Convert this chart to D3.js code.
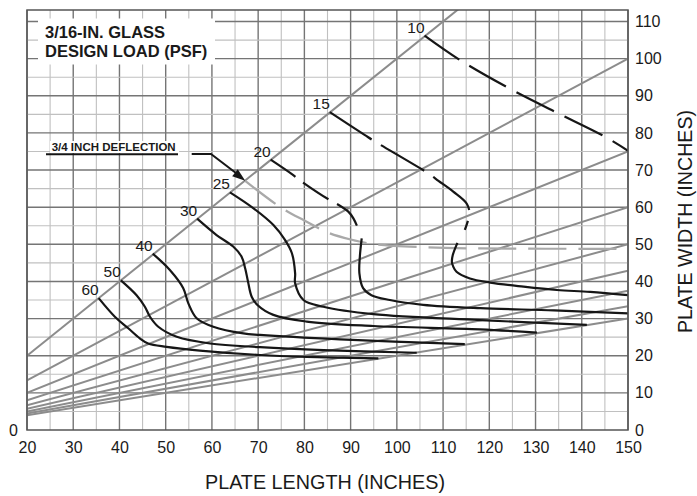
<!DOCTYPE html>
<html><head><meta charset="utf-8">
<script src="https://cdn.jsdelivr.net/npm/d3@7"></script>
<style>html,body{margin:0;padding:0;background:#fff;} svg{display:block;font-family:"Liberation Sans",Arial,Helvetica,sans-serif;}</style>
</head><body><svg id="c" width="697" height="496"></svg>
<script>
// ---------- data ----------
const xTickValues = [20,30,40,50,60,70,80,90,100,110,120,130,140,150];
const yTickValues = [0,10,20,30,40,50,60,70,80,90,100,110];
const aspectRatios = [1,1.5,2,2.5,3,3.5,4,4.5,5];   // plate length / plate width

const load10Dashed = [[106,106.2],[113.8,99.5],[124.3,92.0],[134.7,85.4],[145.0,79.0],[150,75.2]];
const load15Dashed = [[85.5,85.6],[93.1,79.4],[95.1,77.8],[106.8,69.1],[109.0,67.1],[112.2,64.2],[115.1,61.0],[115.7,58.3],[114.7,53.9]];
const load15Solid  = [[113.1,50.4],[112.1,47.1],[111.9,45.3],[112.2,44.0],[112.9,42.6],[115.8,40.8],[120.2,39.7],[127.4,38.6],[134.6,37.7],[141.8,37.2],[150,36.3]];
const load20Dashed = [[72.7,72.8],[77.3,68.9],[79.4,66.9],[85.5,61.9],[86.6,61.2],[89.5,58.8],[90.6,57.0],[91.7,54.0]];
const load20Solid  = [[92.4,51.6],[92.0,46.7],[91.9,42.2],[92.7,38.2],[94.5,36.3],[98.5,35.0],[105.7,33.7],[118,32.8],[134,32.2],[150,31.4]];
const load25Solid  = [[63.9,64.0],[69.0,59.7],[73.3,55.2],[75.8,51.2],[77.3,47.6],[78.0,42.2],[78.0,39.5],[79.8,35.0],[84.1,33.2],[94.9,31.2],[118,29.6],[141.1,28.3]];
const load30Solid  = [[56.8,56.9],[61.0,52.5],[64.6,49.4],[66.4,46.7],[67.2,43.5],[67.8,40.0],[68.6,35.9],[69.9,33.6],[73.3,31.0],[80.5,29.2],[94.9,28.0],[118,27.1],[130.3,26.2]];
const load40Solid  = [[47.2,47.5],[50.9,43.1],[53.8,38.2],[54.9,34.1],[56.7,30.1],[60.3,27.8],[66.8,26.0],[70.4,25.6],[87.7,24.4],[114.7,23.1]];
const load50Solid  = [[40.3,40.3],[43.7,36.3],[45.5,33.2],[46.6,30.5],[48.4,27.8],[52.4,25.1],[59.6,23.3],[70.4,22.3],[84.1,21.5],[104.3,20.8]];
const load60Solid  = [[35.5,35.5],[39.0,30.5],[41.9,27.4],[44.4,24.7],[46.2,23.3],[50.2,22.4],[57.4,21.4],[70.4,20.2],[80.5,19.7],[96.0,19.3]];
const deflectionLine = [[67.2,67.1],[74.7,60.1],[80,56.4],[85.2,53.1],[90,51.3],[95.3,50.0],[106.1,49.2],[116.5,48.9],[150,48.8]];

const curves = [
  {label:"10", dashed:load10Dashed, solid:[]},
  {label:"15", dashed:load15Dashed, solid:load15Solid},
  {label:"20", dashed:load20Dashed, solid:load20Solid},
  {label:"25", dashed:[], solid:load25Solid},
  {label:"30", dashed:[], solid:load30Solid},
  {label:"40", dashed:[], solid:load40Solid},
  {label:"50", dashed:[], solid:load50Solid},
  {label:"60", dashed:[], solid:load60Solid}
];
const dashStyle = {"10":"42,12","15":"50,11","20":"30,10"};

// ---------- drawing ----------
const svg = d3.select("#c");
const L=27,R=628,T=10,B=430;
const x = d3.scaleLinear().domain([20,150]).range([L,R]);
const y = d3.scaleLinear().domain([0,113.1]).range([B,T]);

svg.append("defs").append("clipPath").attr("id","plot")
  .append("rect").attr("x",L).attr("y",T).attr("width",R-L).attr("height",B-T);

// grid
const grid = svg.append("g");
const xGrid = d3.range(20,150.1,5), yGrid = d3.range(5,111,5);
grid.selectAll(".vx").data(xGrid).join("line")
  .attr("x1",d=>x(d)).attr("x2",d=>x(d)).attr("y1",T).attr("y2",B)
  .attr("stroke",d=>d%10===0?"#757575":"#c0c0c0").attr("stroke-width",d=>d%10===0?1.4:1.1);
grid.selectAll(".hy").data(yGrid).join("line")
  .attr("y1",d=>y(d)).attr("y2",d=>y(d)).attr("x1",L).attr("x2",R)
  .attr("stroke",d=>d%10===0?"#757575":"#c0c0c0").attr("stroke-width",d=>d%10===0?1.4:1.1);

const plot = svg.append("g").attr("clip-path","url(#plot)");
// aspect ratio lines
plot.selectAll(".ratio").data(aspectRatios).join("line")
  .attr("x1",x(20)).attr("y1",r=>y(20/r)).attr("x2",x(150)).attr("y2",r=>y(150/r))
  .attr("stroke","#8c8c8c").attr("stroke-width",2);

const line = d3.line().x(d=>x(d[0])).y(d=>y(d[1])).curve(d3.curveCatmullRom.alpha(0.5));

// deflection line
plot.append("path").attr("d",line(deflectionLine)).attr("fill","none")
  .attr("stroke","#a9a9a9").attr("stroke-width",2.2).attr("stroke-dasharray","38,12");

// load curves
curves.forEach(c=>{
  if(c.dashed.length) plot.append("path").attr("d",line(c.dashed)).attr("fill","none")
    .attr("stroke","#161616").attr("stroke-width",2.2).attr("stroke-dasharray",dashStyle[c.label]);
  if(c.solid.length) plot.append("path").attr("d",line(c.solid)).attr("fill","none")
    .attr("stroke","#161616").attr("stroke-width",2.2);
  const p = c.dashed.length ? c.dashed[0] : c.solid[0];
  svg.append("text").attr("x",x(p[0])).attr("y",y(p[1])-3).attr("text-anchor","end")
    .attr("font-size",15.5).attr("fill","#1a1a1a").text(c.label);
});

// border
svg.append("rect").attr("x",L).attr("y",T).attr("width",R-L).attr("height",B-T)
  .attr("fill","none").attr("stroke","#555").attr("stroke-width",1.5);

// axes
function styleAxis(g){ g.select(".domain").remove(); g.selectAll("text").attr("font-size",16).attr("fill","#1a1a1a")
  .attr("font-family","'Liberation Sans',Arial,Helvetica,sans-serif"); }
svg.append("g").attr("transform",`translate(0,${B})`)
  .call(d3.axisBottom(x).tickValues(xTickValues).tickSize(0).tickPadding(11.6)).call(styleAxis);
svg.append("g").attr("transform",`translate(${R},0)`)
  .call(d3.axisRight(y).tickValues(yTickValues).tickSize(0).tickPadding(7)).call(styleAxis);
svg.append("g").attr("transform",`translate(${L},0)`)
  .call(d3.axisLeft(y).tickValues([0]).tickSize(0).tickPadding(9)).call(styleAxis);

// axis titles
svg.append("text").attr("x",325).attr("y",489).attr("text-anchor","middle").attr("font-size",21)
  .attr("textLength",240).attr("lengthAdjust","spacingAndGlyphs").attr("fill","#1a1a1a").text("PLATE LENGTH (INCHES)");
svg.append("text").attr("transform","translate(692,221.5) rotate(-90)").attr("text-anchor","middle").attr("font-size",20)
  .attr("textLength",223).attr("lengthAdjust","spacingAndGlyphs").attr("fill","#1a1a1a").text("PLATE WIDTH (INCHES)");

// title box
svg.append("rect").attr("x",38).attr("y",18.5).attr("width",177).attr("height",46).attr("fill","#fff");
svg.append("text").attr("x",45).attr("y",38.3).attr("font-size",16.5).attr("font-weight","bold").attr("fill","#1a1a1a").text("3/16-IN. GLASS");
svg.append("text").attr("x",45).attr("y",57.3).attr("font-size",16.5).attr("font-weight","bold").attr("fill","#1a1a1a").text("DESIGN LOAD (PSF)");

// deflection annotation
svg.append("rect").attr("x",50).attr("y",141).attr("width",129).attr("height",12).attr("fill","#fff");
svg.append("text").attr("x",51.7).attr("y",151).attr("font-size",10.8).attr("font-weight","bold")
  .attr("textLength",124).attr("lengthAdjust","spacingAndGlyphs").attr("fill","#1a1a1a").text("3/4 INCH DEFLECTION");
svg.append("line").attr("x1",46).attr("x2",178).attr("y1",154.3).attr("y2",154.3).attr("stroke","#161616").attr("stroke-width",2);
const tip = [x(deflectionLine[0][0]), y(deflectionLine[0][1])];
svg.append("polyline").attr("points",`191.7,154 211,154 ${tip[0]-7},${tip[1]-6}`).attr("fill","none")
  .attr("stroke","#161616").attr("stroke-width",2);
// arrowhead
const ang = Math.atan2(tip[1]-154, tip[0]-211);
const al=13, aw=4.5;
const bx=tip[0]-al*Math.cos(ang), by=tip[1]-al*Math.sin(ang);
svg.append("polygon").attr("points",
  `${tip[0]},${tip[1]} ${bx+aw*Math.sin(ang)},${by-aw*Math.cos(ang)} ${bx-aw*Math.sin(ang)},${by+aw*Math.cos(ang)}`)
  .attr("fill","#161616");
</script></body></html>
